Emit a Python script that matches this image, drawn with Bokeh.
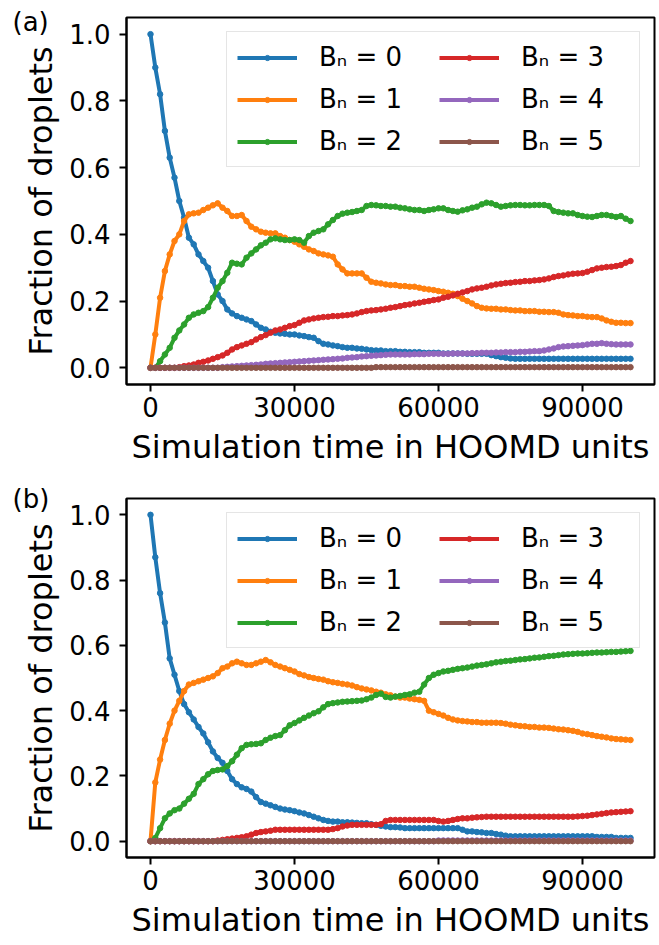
from bokeh.plotting import figure
from bokeh.layouts import column
from bokeh.models import Range1d, FixedTicker, Legend, LegendItem, Title
from bokeh.embed import file_html
from bokeh.resources import INLINE

# ---------------- data ----------------
time = [i * 1000 for i in range(101)]

labels = ["Bₙ = 0", "Bₙ = 1", "Bₙ = 2", "Bₙ = 3", "Bₙ = 4", "Bₙ = 5"]
colors = ["#1f77b4", "#ff7f0e", "#2ca02c", "#d62728", "#9467bd", "#8c564b"]

x_ticks = [0, 30000, 60000, 90000]
x_tick_labels = ["0", "30000", "60000", "90000"]
y_ticks = [0.0, 0.2, 0.4, 0.6, 0.8, 1.0]
y_tick_labels = ["0.0", "0.2", "0.4", "0.6", "0.8", "1.0"]

# panel (a)
a_b0 = [1.00, 0.90, 0.82, 0.71, 0.63, 0.57, 0.50, 0.45, 0.39, 0.37,
        0.34, 0.32, 0.30, 0.26, 0.22, 0.20, 0.175, 0.163, 0.155, 0.15,
        0.145, 0.14, 0.13, 0.12, 0.115, 0.108, 0.105, 0.103, 0.102, 0.10,
        0.10, 0.097, 0.095, 0.092, 0.09, 0.08, 0.072, 0.07, 0.067, 0.065,
        0.062, 0.06, 0.06, 0.058, 0.057, 0.055, 0.053, 0.052, 0.052, 0.05,
        0.05, 0.05, 0.048, 0.048, 0.047, 0.047, 0.047, 0.045, 0.045, 0.045,
        0.045, 0.043, 0.043, 0.043, 0.043, 0.043, 0.042, 0.042, 0.042, 0.042,
        0.042, 0.038, 0.035, 0.032, 0.03, 0.028, 0.027, 0.027, 0.027, 0.027,
        0.027, 0.027, 0.027, 0.027, 0.027, 0.027, 0.027, 0.027, 0.027, 0.027,
        0.027, 0.027, 0.027, 0.027, 0.027, 0.027, 0.027, 0.027, 0.027, 0.027,
        0.027]
a_b1 = [0.0, 0.10, 0.21, 0.29, 0.34, 0.38, 0.40, 0.44, 0.46, 0.463,
        0.465, 0.473, 0.48, 0.487, 0.493, 0.48, 0.47, 0.455, 0.455, 0.458,
        0.44, 0.423, 0.415, 0.408, 0.405, 0.403, 0.403, 0.395, 0.39, 0.383,
        0.378, 0.37, 0.363, 0.355, 0.35, 0.343, 0.34, 0.337, 0.333, 0.31,
        0.295, 0.283, 0.283, 0.283, 0.283, 0.27, 0.258, 0.255, 0.253, 0.25,
        0.248, 0.248, 0.245, 0.245, 0.243, 0.243, 0.24, 0.237, 0.235, 0.233,
        0.23, 0.228, 0.225, 0.222, 0.215, 0.207, 0.20, 0.193, 0.185, 0.18,
        0.178, 0.177, 0.177, 0.175, 0.175, 0.173, 0.172, 0.172, 0.17, 0.17,
        0.17, 0.168, 0.168, 0.167, 0.167, 0.165, 0.16, 0.158, 0.157, 0.155,
        0.155, 0.153, 0.152, 0.152, 0.148, 0.142, 0.138, 0.135, 0.135, 0.134,
        0.134]
a_b2 = [0.0, 0.0, 0.02, 0.04, 0.06, 0.09, 0.112, 0.13, 0.15, 0.16,
        0.165, 0.17, 0.182, 0.21, 0.24, 0.26, 0.285, 0.315, 0.312, 0.31,
        0.33, 0.343, 0.355, 0.367, 0.375, 0.385, 0.388, 0.385, 0.383, 0.383,
        0.385, 0.383, 0.375, 0.395, 0.405, 0.41, 0.415, 0.43, 0.443, 0.455,
        0.462, 0.465, 0.467, 0.47, 0.473, 0.485, 0.488, 0.487, 0.485, 0.485,
        0.483, 0.483, 0.48, 0.478, 0.475, 0.473, 0.473, 0.47, 0.473, 0.475,
        0.478, 0.478, 0.473, 0.47, 0.468, 0.472, 0.475, 0.48, 0.483, 0.49,
        0.495, 0.493, 0.488, 0.483, 0.485, 0.487, 0.488, 0.488, 0.487, 0.487,
        0.488, 0.488, 0.488, 0.485, 0.47, 0.467, 0.465, 0.463, 0.463, 0.458,
        0.455, 0.453, 0.452, 0.455, 0.458, 0.458, 0.455, 0.452, 0.455, 0.447,
        0.44]
a_b3 = [0.0, 0.0, 0.0, 0.0, 0.0, 0.0, 0.002, 0.005, 0.007, 0.01,
        0.015, 0.018, 0.022, 0.027, 0.032, 0.037, 0.045, 0.055, 0.062, 0.067,
        0.072, 0.077, 0.085, 0.092, 0.098, 0.105, 0.112, 0.115, 0.12, 0.125,
        0.128, 0.135, 0.142, 0.145, 0.148, 0.15, 0.152, 0.153, 0.155, 0.155,
        0.157, 0.158, 0.16, 0.163, 0.167, 0.17, 0.172, 0.173, 0.175, 0.177,
        0.18, 0.182, 0.185, 0.188, 0.19, 0.193, 0.195, 0.198, 0.20, 0.203,
        0.205, 0.21, 0.213, 0.217, 0.222, 0.226, 0.23, 0.235, 0.238, 0.24,
        0.243, 0.247, 0.25, 0.252, 0.254, 0.255, 0.257, 0.258, 0.26, 0.26,
        0.262, 0.263, 0.265, 0.268, 0.272, 0.275, 0.277, 0.28, 0.282, 0.283,
        0.284, 0.288, 0.293, 0.298, 0.30, 0.302, 0.303, 0.305, 0.308, 0.315,
        0.32]
a_b4 = [0.0, 0.0, 0.0, 0.0, 0.0, 0.0, 0.0, 0.0, 0.0, 0.0,
        0.0, 0.0, 0.0, 0.0, 0.0, 0.002, 0.003, 0.004, 0.005, 0.006,
        0.007, 0.008, 0.009, 0.01, 0.012, 0.013, 0.014, 0.015, 0.016, 0.017,
        0.018, 0.019, 0.02, 0.021, 0.022, 0.023, 0.024, 0.025, 0.026, 0.027,
        0.028, 0.03, 0.031, 0.032, 0.034, 0.035, 0.036, 0.037, 0.038, 0.039,
        0.04, 0.04, 0.04, 0.04, 0.04, 0.041, 0.041, 0.041, 0.042, 0.042,
        0.042, 0.042, 0.042, 0.043, 0.043, 0.043, 0.043, 0.044, 0.044, 0.045,
        0.045, 0.045, 0.046, 0.046, 0.047, 0.047, 0.047, 0.048, 0.048, 0.049,
        0.05, 0.05, 0.052, 0.055, 0.058, 0.062, 0.064, 0.065, 0.066, 0.067,
        0.068, 0.07, 0.072, 0.072, 0.074, 0.072, 0.071, 0.07, 0.07, 0.07,
        0.07]
a_b5 = [0.0, 0.0, 0.0, 0.0, 0.0, 0.0, 0.0, 0.0, 0.0, 0.0,
        0.0, 0.0, 0.0, 0.0, 0.0, 0.0, 0.0, 0.0, 0.0, 0.0,
        0.0, 0.0, 0.0, 0.0, 0.0, 0.0, 0.0, 0.0, 0.0, 0.0,
        0.0, 0.0, 0.0, 0.0, 0.0, 0.0, 0.0, 0.0, 0.0, 0.0,
        0.0, 0.0, 0.0, 0.0, 0.0, 0.0, 0.0, 0.002, 0.002, 0.002,
        0.002, 0.002, 0.002, 0.002, 0.002, 0.002, 0.002, 0.002, 0.002, 0.002,
        0.002, 0.002, 0.002, 0.002, 0.002, 0.002, 0.002, 0.002, 0.002, 0.002,
        0.002, 0.002, 0.002, 0.002, 0.002, 0.002, 0.002, 0.002, 0.002, 0.002,
        0.002, 0.002, 0.002, 0.002, 0.002, 0.002, 0.002, 0.002, 0.002, 0.002,
        0.002, 0.002, 0.002, 0.002, 0.002, 0.002, 0.002, 0.002, 0.002, 0.002,
        0.002]

# panel (b)
b_b0 = [1.0, 0.87, 0.76, 0.67, 0.56, 0.51, 0.46, 0.42, 0.395, 0.373,
        0.35, 0.33, 0.303, 0.275, 0.255, 0.24, 0.215, 0.19, 0.175, 0.165,
        0.16, 0.152, 0.135, 0.12, 0.115, 0.11, 0.105, 0.10, 0.097, 0.095,
        0.092, 0.088, 0.085, 0.08, 0.075, 0.07, 0.065, 0.062, 0.06, 0.06,
        0.058, 0.058, 0.057, 0.056, 0.055, 0.055, 0.052, 0.05, 0.047, 0.045,
        0.043, 0.043, 0.042, 0.04, 0.04, 0.04, 0.04, 0.04, 0.04, 0.04,
        0.04, 0.04, 0.04, 0.04, 0.04, 0.035, 0.03, 0.03, 0.028, 0.027,
        0.025, 0.025, 0.022, 0.02, 0.017, 0.015, 0.015, 0.015, 0.015, 0.015,
        0.015, 0.015, 0.015, 0.015, 0.015, 0.015, 0.015, 0.015, 0.015, 0.015,
        0.015, 0.015, 0.015, 0.013, 0.013, 0.013, 0.013, 0.01, 0.01, 0.01,
        0.01]
b_b1 = [0.0, 0.18, 0.25, 0.31, 0.36, 0.40, 0.43, 0.46, 0.48, 0.485,
        0.49, 0.495, 0.50, 0.505, 0.515, 0.53, 0.535, 0.545, 0.55, 0.545,
        0.54, 0.54, 0.545, 0.55, 0.555, 0.548, 0.54, 0.535, 0.53, 0.525,
        0.52, 0.512, 0.508, 0.503, 0.50, 0.497, 0.495, 0.49, 0.487, 0.485,
        0.482, 0.48, 0.477, 0.472, 0.468, 0.465, 0.462, 0.458, 0.455, 0.45,
        0.447, 0.443, 0.44, 0.44, 0.437, 0.435, 0.433, 0.43, 0.40, 0.395,
        0.39, 0.385, 0.378, 0.373, 0.37, 0.368, 0.367, 0.365, 0.365, 0.363,
        0.363, 0.363, 0.363, 0.362, 0.36, 0.357, 0.355, 0.353, 0.352, 0.35,
        0.35, 0.348, 0.348, 0.347, 0.345, 0.343, 0.342, 0.34, 0.338, 0.335,
        0.33, 0.328, 0.325, 0.322, 0.32, 0.318, 0.315, 0.313, 0.312, 0.311,
        0.31]
b_b2 = [0.0, 0.01, 0.04, 0.07, 0.085, 0.095, 0.10, 0.115, 0.13, 0.145,
        0.175, 0.19, 0.205, 0.215, 0.218, 0.22, 0.23, 0.245, 0.265, 0.285,
        0.295, 0.297, 0.298, 0.30, 0.31, 0.317, 0.322, 0.325, 0.34, 0.355,
        0.362, 0.37, 0.378, 0.385, 0.392, 0.398, 0.41, 0.42, 0.423, 0.425,
        0.427, 0.428, 0.429, 0.43, 0.431, 0.435, 0.44, 0.448, 0.452, 0.442,
        0.44, 0.443, 0.445, 0.448, 0.45, 0.455, 0.458, 0.48, 0.50, 0.51,
        0.515, 0.52, 0.522, 0.525, 0.528, 0.53, 0.532, 0.535, 0.538, 0.54,
        0.542, 0.545, 0.548, 0.55, 0.552, 0.553, 0.555, 0.557, 0.558, 0.56,
        0.562, 0.563, 0.565, 0.567, 0.568, 0.57, 0.572, 0.573, 0.574, 0.575,
        0.575, 0.576, 0.577, 0.578, 0.578, 0.579, 0.58, 0.58, 0.581, 0.582,
        0.583]
b_b3 = [0.0, 0.0, 0.0, 0.0, 0.0, 0.0, 0.0, 0.0, 0.0, 0.0,
        0.0, 0.0, 0.0, 0.0, 0.002, 0.004, 0.006, 0.008, 0.01, 0.012,
        0.015, 0.02, 0.025, 0.028, 0.03, 0.032, 0.035, 0.035, 0.035, 0.035,
        0.035, 0.035, 0.035, 0.035, 0.035, 0.035, 0.035, 0.035, 0.037, 0.04,
        0.045, 0.048, 0.05, 0.05, 0.05, 0.05, 0.05, 0.05, 0.052, 0.062,
        0.065, 0.065, 0.065, 0.065, 0.065, 0.065, 0.065, 0.065, 0.065, 0.065,
        0.062, 0.06, 0.062, 0.065, 0.068, 0.07, 0.07, 0.072, 0.073, 0.074,
        0.075, 0.075, 0.075, 0.075, 0.075, 0.075, 0.075, 0.075, 0.075, 0.075,
        0.075, 0.075, 0.075, 0.075, 0.075, 0.075, 0.075, 0.075, 0.075, 0.076,
        0.077, 0.078, 0.08, 0.082, 0.084, 0.086, 0.088, 0.089, 0.09, 0.091,
        0.092]
b_b4 = [0.0, 0.0, 0.0, 0.0, 0.0, 0.0, 0.0, 0.0, 0.0, 0.0,
        0.0, 0.0, 0.0, 0.0, 0.0, 0.0, 0.0, 0.0, 0.0, 0.0,
        0.0, 0.0, 0.0, 0.0, 0.0, 0.0, 0.0, 0.0, 0.0, 0.0,
        0.0, 0.0, 0.0, 0.0, 0.0, 0.0, 0.0, 0.0, 0.0, 0.0,
        0.0, 0.0, 0.0, 0.0, 0.0, 0.0, 0.0, 0.0, 0.0, 0.0,
        0.0, 0.0, 0.0, 0.0, 0.0, 0.0, 0.0, 0.0, 0.0, 0.0,
        0.002, 0.002, 0.002, 0.002, 0.002, 0.002, 0.002, 0.002, 0.002, 0.002,
        0.002, 0.002, 0.002, 0.002, 0.002, 0.002, 0.002, 0.002, 0.002, 0.002,
        0.002, 0.002, 0.002, 0.002, 0.002, 0.002, 0.002, 0.002, 0.002, 0.002,
        0.002, 0.002, 0.002, 0.002, 0.002, 0.002, 0.002, 0.002, 0.002, 0.002,
        0.002]
b_b5 = [0.0, 0.0, 0.0, 0.0, 0.0, 0.0, 0.0, 0.0, 0.0, 0.0,
        0.0, 0.0, 0.0, 0.0, 0.0, 0.0, 0.0, 0.0, 0.0, 0.0,
        0.0, 0.0, 0.0, 0.0, 0.0, 0.0, 0.0, 0.0, 0.0, 0.0,
        0.0, 0.0, 0.0, 0.0, 0.0, 0.0, 0.0, 0.0, 0.0, 0.0,
        0.0, 0.0, 0.0, 0.0, 0.0, 0.0, 0.0, 0.0, 0.0, 0.0,
        0.0, 0.0, 0.0, 0.0, 0.0, 0.0, 0.0, 0.0, 0.0, 0.0,
        0.0, 0.0, 0.0, 0.0, 0.0, 0.0, 0.0, 0.0, 0.0, 0.0,
        0.0, 0.0, 0.0, 0.0, 0.0, 0.0, 0.0, 0.0, 0.0, 0.0,
        0.0, 0.0, 0.0, 0.0, 0.0, 0.0, 0.0, 0.0, 0.0, 0.0,
        0.0, 0.0, 0.0, 0.0, 0.0, 0.0, 0.0, 0.0, 0.0, 0.0,
        0.0]

panel_a = [a_b0, a_b1, a_b2, a_b3, a_b4, a_b5]
panel_b = [b_b0, b_b1, b_b2, b_b3, b_b4, b_b5]

FONT = "DejaVu Sans"


def make_panel(series, tag, height, border_top, border_bottom, tag_standoff):
    p = figure(width=656, height=height, output_backend="svg", toolbar_location=None,
               x_range=Range1d(-5000, 105000), y_range=Range1d(-0.05, 1.05),
               min_border_left=126, min_border_right=2,
               min_border_top=border_top, min_border_bottom=border_bottom)
    p.background_fill_color = "white"
    p.border_fill_color = "white"
    p.grid.visible = False
    p.outline_line_color = "black"
    p.outline_line_width = 2
    p.outline_line_alpha = 1.0

    for ax in (p.xaxis[0], p.yaxis[0]):
        ax.axis_line_width = 2
        ax.axis_line_color = "black"
        ax.major_tick_line_width = 2
        ax.major_tick_line_color = "black"
        ax.major_tick_out = 7
        ax.major_tick_in = 0
        ax.minor_tick_out = 0
        ax.minor_tick_in = 0
        ax.major_label_text_font = FONT
        ax.major_label_text_font_size = "26px"
        ax.major_label_text_color = "black"
        ax.axis_label_text_font = FONT
        ax.axis_label_text_font_size = "32px"
        ax.axis_label_text_font_style = "normal"
        ax.axis_label_text_color = "black"

    p.xaxis[0].ticker = FixedTicker(ticks=x_ticks)
    p.xaxis[0].major_label_overrides = dict(zip(x_ticks, x_tick_labels))
    p.yaxis[0].ticker = FixedTicker(ticks=y_ticks)
    p.yaxis[0].major_label_overrides = dict(zip(y_ticks, y_tick_labels))
    p.xaxis[0].axis_label = "Simulation time in HOOMD units"
    p.yaxis[0].axis_label = "Fraction of droplets"
    p.xaxis[0].major_label_standoff = 5
    p.yaxis[0].major_label_standoff = 9
    p.xaxis[0].axis_label_standoff = 8
    p.yaxis[0].axis_label_standoff = 6

    items = []
    for vals, lab, col in zip(series, labels, colors):
        r1 = p.line(time, vals, line_color=col, line_width=4)
        r2 = p.scatter(time, vals, size=5.5, marker="circle", fill_color=col, line_color=col)
        items.append(LegendItem(label=lab, renderers=[r1, r2]))

    legend = Legend(items=items, location="top_right", ncols=2, orientation="vertical",
                    label_text_font=FONT, label_text_font_size="26px",
                    label_text_color="black",
                    glyph_width=60, glyph_height=13, label_height=30, label_width=108,
                    label_standoff=22, spacing=12, padding=10, margin=14,
                    border_line_color="#cccccc", border_line_width=1,
                    background_fill_color="white", background_fill_alpha=0.8)
    p.add_layout(legend, "center")

    p.add_layout(Title(text=tag, align="left", vertical_align="bottom",
                       offset=-114, standoff=tag_standoff,
                       text_font=FONT, text_font_size="26px",
                       text_font_style="normal", text_color="black"), "above")
    return p


pa = make_panel(panel_a, "(a)", 470, 17, 86, -38)
pb = make_panel(panel_b, "(b)", 471, 28, 76, -30)

layout = column(pa, pb, spacing=0)

with open("out.html", "w") as f:
    f.write(file_html(layout, INLINE))
